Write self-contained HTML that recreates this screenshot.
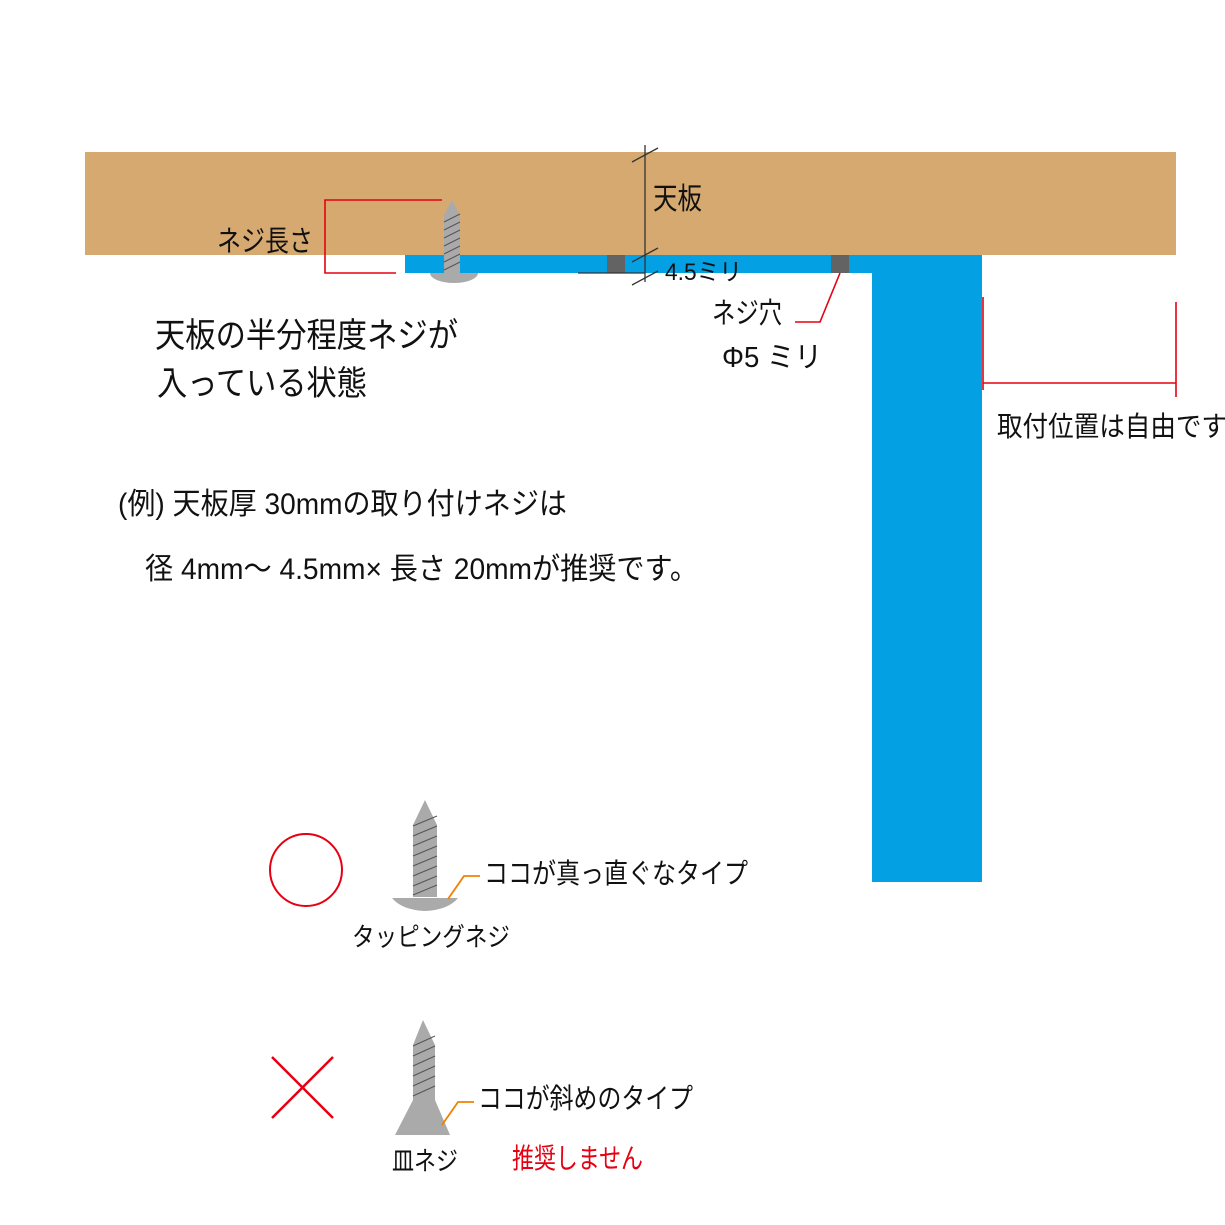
<!DOCTYPE html>
<html><head><meta charset="utf-8"><style>html,body{margin:0;padding:0;background:#fff}svg{display:block}</style></head>
<body>
<svg width="1225" height="1225" viewBox="0 0 1225 1225" xmlns="http://www.w3.org/2000/svg" font-family="'Liberation Sans','Noto Sans CJK JP',sans-serif">
<rect x="85" y="152" width="1091" height="103" fill="#d6a971"/>
<rect x="405" y="255" width="577" height="18" fill="#03a0e4"/>
<rect x="872" y="255" width="110" height="627" fill="#03a0e4"/>
<rect x="607" y="255" width="18" height="18" fill="#636363"/>
<rect x="831" y="255" width="18" height="18" fill="#636363"/>
<!-- top screw -->
<path d="M430 273 A24 10 0 0 0 478 273 Z" fill="#aaa"/>
<path d="M444 273 L444 215 L452 200 L460 215 L460 273 Z" fill="#aaa"/>
<g stroke="#555" stroke-width="1">
<line x1="444" y1="222" x2="460" y2="214"/><line x1="444" y1="230" x2="460" y2="222"/><line x1="444" y1="238" x2="460" y2="230"/><line x1="444" y1="246" x2="460" y2="238"/><line x1="444" y1="254" x2="460" y2="246"/><line x1="444" y1="262" x2="460" y2="254"/><line x1="444" y1="270" x2="460" y2="262"/>
</g>
<!-- dims -->
<g stroke="#333" stroke-width="1.3" fill="none">
<line x1="645" y1="145" x2="645" y2="282"/>
<line x1="632" y1="162" x2="658" y2="148"/>
<line x1="632" y1="262" x2="658" y2="248"/>
<line x1="632" y1="285" x2="658" y2="271"/>
<line x1="578" y1="273" x2="645" y2="273"/>
</g>
<g stroke="#e60012" stroke-width="1.6" fill="none">
<polyline points="442,200 325,200 325,273 396,273"/>
<polyline points="840,273 820,322 795,322"/>
<line x1="983" y1="297" x2="983" y2="390"/>
<line x1="1176" y1="302" x2="1176" y2="397"/>
<line x1="983" y1="383" x2="1176" y2="383"/>
</g>
<g fill="#111">
<text x="653" y="209" font-size="30" textLength="49" lengthAdjust="spacingAndGlyphs">天板</text>
<text x="665" y="280" font-size="24" textLength="77" lengthAdjust="spacingAndGlyphs">4.5ミリ</text>
<text x="217" y="251" font-size="29" textLength="96" lengthAdjust="spacingAndGlyphs">ネジ長さ</text>
<text x="712" y="323" font-size="29" textLength="70" lengthAdjust="spacingAndGlyphs">ネジ穴</text>
<text x="722" y="367" font-size="29" textLength="100" lengthAdjust="spacingAndGlyphs">Φ5 ミリ</text>
<text x="997" y="436" font-size="28" textLength="230" lengthAdjust="spacingAndGlyphs">取付位置は自由です</text>
<text x="155" y="347" font-size="34" textLength="303" lengthAdjust="spacingAndGlyphs">天板の半分程度ネジが</text>
<text x="157" y="395" font-size="34" textLength="210" lengthAdjust="spacingAndGlyphs">入っている状態</text>
<text x="118" y="514" font-size="30" textLength="449" lengthAdjust="spacingAndGlyphs">(例) 天板厚 30mmの取り付けネジは</text>
<text x="145" y="579" font-size="30" textLength="553" lengthAdjust="spacingAndGlyphs">径 4mm～ 4.5mm× 長さ 20mmが推奨です。</text>
<text x="484" y="883" font-size="28" textLength="264" lengthAdjust="spacingAndGlyphs">ココが真っ直ぐなタイプ</text>
<text x="352" y="946" font-size="26" textLength="158" lengthAdjust="spacingAndGlyphs">タッピングネジ</text>
<text x="478" y="1108" font-size="28" textLength="215" lengthAdjust="spacingAndGlyphs">ココが斜めのタイプ</text>
<text x="392" y="1170" font-size="26" textLength="66" lengthAdjust="spacingAndGlyphs">皿ネジ</text>
</g>
<text x="512" y="1168" font-size="28" fill="#e60012" textLength="131" lengthAdjust="spacingAndGlyphs">推奨しません</text>
<!-- symbols -->
<circle cx="306" cy="870" r="36" fill="none" stroke="#e60012" stroke-width="2"/>
<g stroke="#e60012" stroke-width="2.5"><line x1="272" y1="1057" x2="333" y2="1118"/><line x1="333" y1="1057" x2="272" y2="1118"/></g>
<!-- screw 1 -->
<path d="M413 897 L413 825 L425 800 L437 825 L437 897 Z" fill="#aaa"/>
<path d="M392 898 L458 898 Q448 910 425 911 Q402 910 392 898 Z" fill="#aaa"/>
<g stroke="#555" stroke-width="1">
<line x1="413" y1="826" x2="437" y2="816"/><line x1="413" y1="836" x2="437" y2="826"/><line x1="413" y1="846" x2="437" y2="836"/><line x1="413" y1="856" x2="437" y2="846"/><line x1="413" y1="866" x2="437" y2="856"/><line x1="413" y1="876" x2="437" y2="866"/><line x1="413" y1="886" x2="437" y2="876"/><line x1="413" y1="895" x2="437" y2="885"/>
</g>
<polyline points="448,899 464,876 480,876" fill="none" stroke="#f08000" stroke-width="1.8"/>
<!-- screw 2 -->
<path d="M413 1100 L413 1045 L423 1020 L435 1045 L435 1100 Z" fill="#aaa"/>
<path d="M413 1100 L435 1100 L450 1135 L395 1135 Z" fill="#aaa"/>
<g stroke="#555" stroke-width="1">
<line x1="413" y1="1046" x2="435" y2="1036"/><line x1="413" y1="1056" x2="435" y2="1046"/><line x1="413" y1="1066" x2="435" y2="1056"/><line x1="413" y1="1076" x2="435" y2="1066"/><line x1="413" y1="1086" x2="435" y2="1076"/><line x1="413" y1="1096" x2="435" y2="1086"/>
</g>
<polyline points="442,1125 458,1102 474,1102" fill="none" stroke="#f08000" stroke-width="1.8"/>
</svg>
</body></html>
